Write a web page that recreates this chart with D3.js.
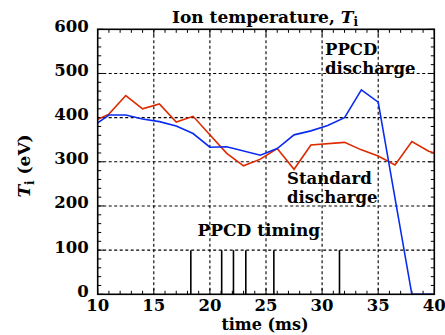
<!DOCTYPE html>
<html><head><meta charset="utf-8">
<script src="https://cdn.jsdelivr.net/npm/d3@7"></script>
<style>
html,body{margin:0;padding:0;background:#fff;}
text{font-family:"DejaVu Serif",serif;font-weight:bold;fill:#000;}
</style></head>
<body>
<svg id="chart" width="445" height="335"></svg>
<script>
// ---- data ----
const stdTime = [10, 11, 12.5, 14, 15.5, 17, 18.5, 21.5, 23, 24.5, 26, 27.5, 29, 32, 33.5, 35, 36.5, 38, 39.5, 40];
const stdTi   = [396, 408, 450, 420, 431, 390, 403, 319, 291, 306, 330, 283, 338, 344, 327, 313, 293, 346, 324, 320];
const ppcdTime = [10, 11, 12.5, 14, 15.5, 17, 18.5, 20, 21.5, 24.5, 26, 27.5, 29, 30.5, 32, 33.5, 35, 38, 40];
const ppcdTi   = [388, 406, 406, 397, 391, 381, 364, 333, 334, 315, 330, 361, 370, 382, 400, 463, 435, 0, 0];
const timingPulses = [18.3, 21.05, 22.1, 23.2, 25.7, 31.55];
const pulseHeight = 100;
const xTicks = [10, 15, 20, 25, 30, 35, 40];
const yTicks = [0, 100, 200, 300, 400, 500, 600];

const svg = d3.select("#chart");
const L = 97.7, R = 434.3, T = 29.3, B = 294.3;
const x = d3.scaleLinear().domain([10, 40]).range([L, R]);
const y = d3.scaleLinear().domain([0, 600]).range([B, T]);

svg.append("defs").append("clipPath").attr("id","clip")
  .append("rect").attr("x",L).attr("y",T-1).attr("width",R-L).attr("height",B-T+1);

// grid
const g = svg.append("g");
g.selectAll("line.gx").data(xTicks.slice(1,-1)).join("line")
  .attr("x1",d=>x(d)).attr("x2",d=>x(d)).attr("y1",T).attr("y2",B)
  .attr("stroke","#000").attr("stroke-width",1.1).attr("stroke-dasharray","3,2.5");
g.selectAll("line.gy").data(yTicks.slice(1,-1)).join("line")
  .attr("y1",d=>y(d)).attr("y2",d=>y(d)).attr("x1",L).attr("x2",R)
  .attr("stroke","#000").attr("stroke-width",1.1).attr("stroke-dasharray","3,2.5");

// minor ticks (inward on all sides)
const xMinor = d3.range(10, 40.01, 1);
const yMinor = d3.range(0, 600.01, 20);
const tk = svg.append("g").attr("stroke","#000").attr("stroke-width",1);
xMinor.forEach(v=>{
  const len = (v%5===0)?6:3.5;
  tk.append("line").attr("x1",x(v)).attr("x2",x(v)).attr("y1",B).attr("y2",B-len);
  tk.append("line").attr("x1",x(v)).attr("x2",x(v)).attr("y1",T).attr("y2",T+len);
});
yMinor.forEach(v=>{
  const len = (v%100===0)?6:3.5;
  tk.append("line").attr("y1",y(v)).attr("y2",y(v)).attr("x1",L).attr("x2",L+len);
  tk.append("line").attr("y1",y(v)).attr("y2",y(v)).attr("x1",R).attr("x2",R-len);
});

// timing pulses
svg.append("g").selectAll("line").data(timingPulses).join("line")
  .attr("x1",d=>x(d)).attr("x2",d=>x(d)).attr("y1",y(0)).attr("y2",y(pulseHeight))
  .attr("stroke","#000").attr("stroke-width",1.6);

// lines
const line = d3.line().x(d=>x(d[0])).y(d=>y(d[1]));
const plot = svg.append("g").attr("clip-path","url(#clip)");
plot.append("path").datum(stdTime.map((t,i)=>[t,stdTi[i]]))
  .attr("d",line).attr("fill","none").attr("stroke","#dd2a00").attr("stroke-width",1.6);
plot.append("path").datum(ppcdTime.map((t,i)=>[t,ppcdTi[i]]))
  .attr("d",line).attr("fill","none").attr("stroke","#0a2cf0").attr("stroke-width",1.6);

// frame
svg.append("rect").attr("x",L).attr("y",T).attr("width",R-L).attr("height",B-T)
  .attr("fill","none").attr("stroke","#000").attr("stroke-width",1.6);

// tick labels
svg.append("g").selectAll("text").data(yTicks).join("text")
  .attr("x",L-9).attr("y",d=>y(d)+2.5).attr("text-anchor","end")
  .attr("font-size",16.5).text(d=>d);
svg.append("g").selectAll("text").data(xTicks).join("text")
  .attr("x",d=>x(d)).attr("y",B+16.5).attr("text-anchor","middle")
  .attr("font-size",16.5).text(d=>d);

// title
const title = svg.append("text").attr("x",265).attr("y",22.5).attr("text-anchor","middle").attr("font-size",17);
title.append("tspan").text("Ion temperature, ");
title.append("tspan").attr("font-style","italic").text("T");
title.append("tspan").attr("font-size",12).attr("dy",3.5).text("i");

// x label
svg.append("text").attr("x",265).attr("y",329.5).attr("text-anchor","middle").attr("font-size",16).text("time (ms)");

// y label
const yl = svg.append("text").attr("transform","translate(30,166) rotate(-90)").attr("text-anchor","middle").attr("font-size",17);
yl.append("tspan").attr("font-style","italic").text("T");
yl.append("tspan").attr("font-size",12).attr("dy",3.5).text("i");
yl.append("tspan").attr("dy",-3.5).text(" (eV)");

// annotations
const ann = [
  {t:"PPCD", x:325, y:55, fs:16.5},
  {t:"discharge", x:325, y:74, fs:16.5},
  {t:"Standard", x:287, y:183.5, fs:16.5},
  {t:"discharge", x:287, y:202.5, fs:16.5},
  {t:"PPCD timing", x:197.5, y:236, fs:17}
];
svg.append("g").selectAll("text").data(ann).join("text")
  .attr("x",d=>d.x).attr("y",d=>d.y).attr("font-size",d=>d.fs).text(d=>d.t);
</script>
</body></html>
